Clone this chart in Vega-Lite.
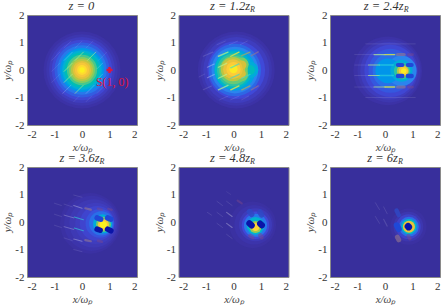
{"$schema":"https://vega.github.io/schema/vega-lite/v6.json","padding":{"left":1,"top":-2,"right":0,"bottom":0},"background":"white","columns":3,"bounds":"flush",
"datasets":{"d":[
{"p":"z = 0","k":"b","x":0,"y":0,"r":1.4,"v":0.02},{"p":"z = 0","k":"b","x":0,"y":0,"r":1.3,"v":0.04},{"p":"z = 0","k":"b","x":0,"y":0,"r":1.2,"v":0.07},{"p":"z = 0","k":"b","x":0,"y":0,"r":1.1,"v":0.11},{"p":"z = 0","k":"b","x":0,"y":0,"r":1.0,"v":0.16},{"p":"z = 0","k":"b","x":0,"y":0,"r":0.9,"v":0.22},{"p":"z = 0","k":"b","x":0,"y":0,"r":0.8,"v":0.3},{"p":"z = 0","k":"b","x":0,"y":0,"r":0.72,"v":0.38},{"p":"z = 0","k":"b","x":0,"y":0,"r":0.64,"v":0.46},{"p":"z = 0","k":"b","x":0,"y":0,"r":0.55,"v":0.54},{"p":"z = 0","k":"b","x":0,"y":0,"r":0.47,"v":0.62},{"p":"z = 0","k":"b","x":0,"y":0,"r":0.4,"v":0.7},{"p":"z = 0","k":"b","x":0,"y":0,"r":0.33,"v":0.78},{"p":"z = 0","k":"b","x":0,"y":0,"r":0.26,"v":0.85},{"p":"z = 0","k":"b","x":0,"y":0,"r":0.18,"v":0.92},{"p":"z = 0","k":"b","x":0,"y":0,"r":0.1,"v":0.98},
{"p":"z = 1.2z","k":"b","x":0.1,"y":0,"r":1.4,"v":0.02},{"p":"z = 1.2z","k":"b","x":0.1,"y":0,"r":1.3,"v":0.04},{"p":"z = 1.2z","k":"b","x":0.1,"y":0,"r":1.2,"v":0.07},{"p":"z = 1.2z","k":"b","x":0.1,"y":0,"r":1.05,"v":0.12},{"p":"z = 1.2z","k":"b","x":0.05,"y":0,"r":0.95,"v":0.18},{"p":"z = 1.2z","k":"b","x":0.05,"y":0,"r":0.85,"v":0.25},{"p":"z = 1.2z","k":"b","x":0.05,"y":0,"r":0.75,"v":0.33},{"p":"z = 1.2z","k":"b","x":0,"y":0,"r":0.68,"v":0.42},{"p":"z = 1.2z","k":"b","x":0.6,"y":0,"r":0.3,"v":0.36},{"p":"z = 1.2z","k":"b","x":0,"y":0,"r":0.6,"v":0.5},{"p":"z = 1.2z","k":"b","x":0.6,"y":0,"r":0.18,"v":0.45},{"p":"z = 1.2z","k":"b","x":0,"y":0,"r":0.52,"v":0.58},{"p":"z = 1.2z","k":"b","x":0.3,"y":0.2,"r":0.25,"v":0.6},{"p":"z = 1.2z","k":"b","x":0.28,"y":-0.17,"r":0.25,"v":0.6},{"p":"z = 1.2z","k":"b","x":-0.02,"y":0.03,"r":0.44,"v":0.7},{"p":"z = 1.2z","k":"b","x":0.3,"y":0.18,"r":0.17,"v":0.74},{"p":"z = 1.2z","k":"b","x":0.28,"y":-0.14,"r":0.17,"v":0.74},{"p":"z = 1.2z","k":"b","x":-0.02,"y":0.03,"r":0.36,"v":0.8},{"p":"z = 1.2z","k":"b","x":0,"y":0.03,"r":0.26,"v":0.88},{"p":"z = 1.2z","k":"b","x":0,"y":0.03,"r":0.15,"v":0.96},
{"p":"z = 2.4z","k":"b","x":0.1,"y":-0.03,"r":1.25,"v":0.02},{"p":"z = 2.4z","k":"b","x":0.15,"y":-0.03,"r":1.15,"v":0.04},{"p":"z = 2.4z","k":"b","x":0.15,"y":-0.03,"r":1.05,"v":0.07},{"p":"z = 2.4z","k":"b","x":0.2,"y":-0.03,"r":0.95,"v":0.11},{"p":"z = 2.4z","k":"b","x":0.2,"y":-0.03,"r":0.8,"v":0.15},{"p":"z = 2.4z","k":"b","x":0.2,"y":-0.03,"r":0.65,"v":0.2},{"p":"z = 2.4z","k":"b","x":0.6,"y":-0.03,"r":0.55,"v":0.25},{"p":"z = 2.4z","k":"b","x":0.1,"y":-0.03,"r":0.45,"v":0.29},{"p":"z = 2.4z","k":"b","x":0.6,"y":-0.03,"r":0.4,"v":0.36},{"p":"z = 2.4z","k":"b","x":0.62,"y":-0.04,"r":0.3,"v":0.5},{"p":"z = 2.4z","k":"b","x":0.65,"y":-0.04,"r":0.22,"v":0.68},{"p":"z = 2.4z","k":"b","x":0.67,"y":-0.04,"r":0.17,"v":0.85},{"p":"z = 2.4z","k":"b","x":0.68,"y":-0.04,"r":0.1,"v":0.97},
{"p":"z = 3.6z","k":"b","x":0.3,"y":-0.05,"r":1.1,"v":0.015},{"p":"z = 3.6z","k":"b","x":0.35,"y":-0.05,"r":1.0,"v":0.03},{"p":"z = 3.6z","k":"b","x":0.42,"y":-0.05,"r":0.88,"v":0.05},{"p":"z = 3.6z","k":"b","x":0.5,"y":-0.05,"r":0.75,"v":0.07},{"p":"z = 3.6z","k":"b","x":0.55,"y":-0.05,"r":0.63,"v":0.1},{"p":"z = 3.6z","k":"b","x":0.65,"y":-0.05,"r":0.52,"v":0.14},{"p":"z = 3.6z","k":"b","x":0.7,"y":-0.05,"r":0.44,"v":0.2},{"p":"z = 3.6z","k":"b","x":0.75,"y":-0.07,"r":0.35,"v":0.36},{"p":"z = 3.6z","k":"b","x":0.78,"y":-0.08,"r":0.27,"v":0.6},{"p":"z = 3.6z","k":"b","x":0.78,"y":-0.1,"r":0.2,"v":0.85},{"p":"z = 3.6z","k":"b","x":0.78,"y":-0.1,"r":0.13,"v":0.98},
{"p":"z = 4.8z","k":"b","x":0.7,"y":-0.1,"r":0.85,"v":0.012},{"p":"z = 4.8z","k":"b","x":0.75,"y":-0.1,"r":0.72,"v":0.03},{"p":"z = 4.8z","k":"b","x":0.8,"y":-0.1,"r":0.6,"v":0.06},{"p":"z = 4.8z","k":"b","x":0.8,"y":-0.12,"r":0.5,"v":0.12},{"p":"z = 4.8z","k":"b","x":0.8,"y":-0.12,"r":0.42,"v":0.22},{"p":"z = 4.8z","k":"b","x":0.8,"y":-0.14,"r":0.32,"v":0.4},{"p":"z = 4.8z","k":"b","x":0.8,"y":-0.18,"r":0.22,"v":0.65},{"p":"z = 4.8z","k":"b","x":0.8,"y":-0.18,"r":0.15,"v":0.9},
{"p":"z = 6z","k":"b","x":0.85,"y":-0.17,"r":0.66,"v":0.012},{"p":"z = 6z","k":"b","x":0.85,"y":-0.17,"r":0.54,"v":0.04},{"p":"z = 6z","k":"b","x":0.85,"y":-0.17,"r":0.45,"v":0.09},{"p":"z = 6z","k":"b","x":0.87,"y":-0.17,"r":0.36,"v":0.2},{"p":"z = 6z","k":"b","x":0.87,"y":-0.17,"r":0.28,"v":0.42},{"p":"z = 6z","k":"b","x":0.87,"y":-0.17,"r":0.22,"v":0.8},
{"p":"z = 0","k":"f","x":-1.1,"y":0.35,"x2":-0.8,"y2":0.65,"w":0.025,"t":"f"},{"p":"z = 0","k":"f","x":-0.65,"y":0.35,"x2":-0.35,"y2":0.65,"w":0.025,"t":"w"},{"p":"z = 0","k":"f","x":-0.25,"y":0.35,"x2":0.05,"y2":0.65,"w":0.03,"t":"l"},{"p":"z = 0","k":"f","x":0.2,"y":0.35,"x2":0.5,"y2":0.65,"w":0.03,"t":"l"},{"p":"z = 0","k":"f","x":0.6,"y":0.35,"x2":0.9,"y2":0.65,"w":0.025,"t":"f"},
{"p":"z = 0","k":"f","x":-1.1,"y":-0.05,"x2":-0.8,"y2":0.25,"w":0.025,"t":"f"},{"p":"z = 0","k":"f","x":-0.65,"y":-0.05,"x2":-0.35,"y2":0.25,"w":0.03,"t":"l"},{"p":"z = 0","k":"f","x":0.55,"y":0.05,"x2":0.75,"y2":0.25,"w":0.025,"t":"w"},
{"p":"z = 0","k":"f","x":-1.1,"y":-0.45,"x2":-0.8,"y2":-0.15,"w":0.025,"t":"f"},{"p":"z = 0","k":"f","x":-0.65,"y":-0.45,"x2":-0.35,"y2":-0.15,"w":0.03,"t":"l"},{"p":"z = 0","k":"f","x":0.55,"y":-0.35,"x2":0.75,"y2":-0.15,"w":0.025,"t":"w"},
{"p":"z = 0","k":"f","x":-0.7,"y":-0.85,"x2":-0.4,"y2":-0.55,"w":0.025,"t":"w"},{"p":"z = 0","k":"f","x":-0.25,"y":-0.85,"x2":0.05,"y2":-0.55,"w":0.03,"t":"l"},{"p":"z = 0","k":"f","x":0.15,"y":-0.85,"x2":0.45,"y2":-0.55,"w":0.025,"t":"w"},{"p":"z = 0","k":"f","x":0.55,"y":-0.85,"x2":0.85,"y2":-0.55,"w":0.025,"t":"f"},
{"p":"z = 0","k":"f","x":-0.3,"y":-1.15,"x2":-0.1,"y2":-0.95,"w":0.025,"t":"f"},{"p":"z = 0","k":"f","x":0.15,"y":-1.15,"x2":0.35,"y2":-0.95,"w":0.025,"t":"f"},{"p":"z = 0","k":"f","x":-0.65,"y":0.8,"x2":-0.4,"y2":1.05,"w":0.025,"t":"f"},{"p":"z = 0","k":"f","x":-0.25,"y":0.8,"x2":0,"y2":1.05,"w":0.025,"t":"f"},{"p":"z = 0","k":"f","x":0.15,"y":0.8,"x2":0.4,"y2":1.05,"w":0.025,"t":"f"},
{"p":"z = 1.2z","k":"f","x":-0.55,"y":0.5,"x2":-0.2,"y2":0.65,"w":0.05,"t":"l"},{"p":"z = 1.2z","k":"f","x":-0.1,"y":0.5,"x2":0.2,"y2":0.65,"w":0.05,"t":"y"},{"p":"z = 1.2z","k":"f","x":0.3,"y":0.52,"x2":0.6,"y2":0.65,"w":0.05,"t":"g"},{"p":"z = 1.2z","k":"f","x":-1.1,"y":0.5,"x2":-0.75,"y2":0.65,"w":0.04,"t":"f"},
{"p":"z = 1.2z","k":"f","x":-0.95,"y":0.1,"x2":-0.7,"y2":0.22,"w":0.04,"t":"w"},{"p":"z = 1.2z","k":"f","x":-0.1,"y":0.08,"x2":0.2,"y2":0.22,"w":0.05,"t":"c"},{"p":"z = 1.2z","k":"f","x":-0.55,"y":0.1,"x2":-0.25,"y2":0.24,"w":0.05,"t":"l"},
{"p":"z = 1.2z","k":"f","x":-0.95,"y":-0.28,"x2":-0.7,"y2":-0.16,"w":0.04,"t":"w"},{"p":"z = 1.2z","k":"f","x":-0.55,"y":-0.3,"x2":-0.25,"y2":-0.16,"w":0.05,"t":"l"},{"p":"z = 1.2z","k":"f","x":-0.1,"y":-0.3,"x2":0.2,"y2":-0.16,"w":0.05,"t":"c"},{"p":"z = 1.2z","k":"f","x":0.3,"y":-0.3,"x2":0.6,"y2":-0.16,"w":0.05,"t":"c"},
{"p":"z = 1.2z","k":"f","x":-1.25,"y":-0.25,"x2":-1.05,"y2":-0.15,"w":0.03,"t":"f"},
{"p":"z = 1.2z","k":"f","x":-1.1,"y":-0.72,"x2":-0.8,"y2":-0.58,"w":0.04,"t":"f"},{"p":"z = 1.2z","k":"f","x":-0.55,"y":-0.72,"x2":-0.2,"y2":-0.56,"w":0.05,"t":"l"},{"p":"z = 1.2z","k":"f","x":-0.1,"y":-0.72,"x2":0.2,"y2":-0.58,"w":0.05,"t":"y"},{"p":"z = 1.2z","k":"f","x":0.3,"y":-0.72,"x2":0.6,"y2":-0.58,"w":0.05,"t":"g"},{"p":"z = 1.2z","k":"f","x":0.65,"y":-0.72,"x2":0.9,"y2":-0.58,"w":0.05,"t":"m"},{"p":"z = 1.2z","k":"f","x":0.65,"y":0.52,"x2":0.9,"y2":0.66,"w":0.05,"t":"m"},
{"p":"z = 1.2z","k":"f","x":-0.6,"y":0.92,"x2":-0.3,"y2":1.05,"w":0.03,"t":"f"},{"p":"z = 1.2z","k":"f","x":-0.15,"y":0.92,"x2":0.15,"y2":1.05,"w":0.03,"t":"f"},{"p":"z = 1.2z","k":"f","x":0.25,"y":0.92,"x2":0.5,"y2":1.05,"w":0.03,"t":"f"},{"p":"z = 1.2z","k":"f","x":-0.5,"y":-1.08,"x2":-0.2,"y2":-0.95,"w":0.03,"t":"f"},{"p":"z = 1.2z","k":"f","x":-0.1,"y":-1.08,"x2":0.2,"y2":-0.95,"w":0.03,"t":"f"},{"p":"z = 1.2z","k":"f","x":0.3,"y":-1.08,"x2":0.55,"y2":-0.95,"w":0.03,"t":"f"},
{"p":"z = 2.4z","k":"f","x":-1.1,"y":0.56,"x2":-0.4,"y2":0.56,"w":0.03,"t":"f"},{"p":"z = 2.4z","k":"f","x":-0.4,"y":0.56,"x2":0,"y2":0.56,"w":0.04,"t":"l"},{"p":"z = 2.4z","k":"f","x":0,"y":0.56,"x2":0.35,"y2":0.56,"w":0.05,"t":"y"},{"p":"z = 2.4z","k":"f","x":0.45,"y":0.56,"x2":0.7,"y2":0.56,"w":0.11,"t":"m"},{"p":"z = 2.4z","k":"f","x":0.85,"y":0.56,"x2":1,"y2":0.56,"w":0.1,"t":"n"},
{"p":"z = 2.4z","k":"f","x":-1.1,"y":0.18,"x2":-0.6,"y2":0.18,"w":0.03,"t":"f"},{"p":"z = 2.4z","k":"f","x":-0.6,"y":0.18,"x2":-0.2,"y2":0.18,"w":0.04,"t":"l"},{"p":"z = 2.4z","k":"f","x":-0.2,"y":0.18,"x2":0.3,"y2":0.18,"w":0.05,"t":"c"},
{"p":"z = 2.4z","k":"f","x":-1.1,"y":-0.2,"x2":-0.6,"y2":-0.2,"w":0.03,"t":"f"},{"p":"z = 2.4z","k":"f","x":-0.6,"y":-0.2,"x2":-0.2,"y2":-0.2,"w":0.04,"t":"l"},{"p":"z = 2.4z","k":"f","x":-0.2,"y":-0.2,"x2":0.3,"y2":-0.2,"w":0.05,"t":"c"},
{"p":"z = 2.4z","k":"f","x":-1.1,"y":-0.62,"x2":-0.4,"y2":-0.62,"w":0.03,"t":"f"},{"p":"z = 2.4z","k":"f","x":-0.4,"y":-0.62,"x2":0,"y2":-0.62,"w":0.04,"t":"l"},{"p":"z = 2.4z","k":"f","x":0,"y":-0.62,"x2":0.35,"y2":-0.62,"w":0.05,"t":"y"},{"p":"z = 2.4z","k":"f","x":0.45,"y":-0.62,"x2":0.7,"y2":-0.62,"w":0.11,"t":"m"},{"p":"z = 2.4z","k":"f","x":0.85,"y":-0.62,"x2":1,"y2":-0.62,"w":0.1,"t":"n"},
{"p":"z = 2.4z","k":"f","x":-0.7,"y":0.95,"x2":1.1,"y2":0.95,"w":0.03,"t":"f"},{"p":"z = 2.4z","k":"f","x":-0.7,"y":-1,"x2":1.1,"y2":-1,"w":0.03,"t":"f"},
{"p":"z = 2.4z","k":"f","x":0.47,"y":0.18,"x2":0.63,"y2":0.18,"w":0.15,"t":"b"},{"p":"z = 2.4z","k":"f","x":0.83,"y":0.18,"x2":0.97,"y2":0.18,"w":0.15,"t":"b"},{"p":"z = 2.4z","k":"f","x":0.47,"y":-0.22,"x2":0.63,"y2":-0.22,"w":0.16,"t":"b"},{"p":"z = 2.4z","k":"f","x":0.83,"y":-0.22,"x2":0.97,"y2":-0.22,"w":0.16,"t":"b"},
{"p":"z = 3.6z","k":"f","x":-1,"y":0.68,"x2":-0.75,"y2":0.6,"w":0.03,"t":"f"},{"p":"z = 3.6z","k":"f","x":-0.65,"y":0.65,"x2":-0.35,"y2":0.55,"w":0.03,"t":"f"},{"p":"z = 3.6z","k":"f","x":-0.3,"y":0.6,"x2":0,"y2":0.5,"w":0.04,"t":"w"},{"p":"z = 3.6z","k":"f","x":0.12,"y":0.5,"x2":0.32,"y2":0.45,"w":0.08,"t":"m"},{"p":"z = 3.6z","k":"f","x":0.58,"y":0.48,"x2":0.72,"y2":0.45,"w":0.09,"t":"n"},{"p":"z = 3.6z","k":"f","x":0.95,"y":0.48,"x2":1.08,"y2":0.44,"w":0.08,"t":"n"},
{"p":"z = 3.6z","k":"f","x":-1,"y":0.28,"x2":-0.75,"y2":0.2,"w":0.03,"t":"f"},{"p":"z = 3.6z","k":"f","x":-0.65,"y":0.25,"x2":-0.3,"y2":0.15,"w":0.03,"t":"w"},{"p":"z = 3.6z","k":"f","x":-0.28,"y":0.18,"x2":0.05,"y2":0.08,"w":0.04,"t":"c"},
{"p":"z = 3.6z","k":"f","x":-1,"y":-0.12,"x2":-0.75,"y2":-0.2,"w":0.03,"t":"f"},{"p":"z = 3.6z","k":"f","x":-0.65,"y":-0.17,"x2":-0.3,"y2":-0.27,"w":0.03,"t":"w"},{"p":"z = 3.6z","k":"f","x":-0.28,"y":-0.22,"x2":0.05,"y2":-0.32,"w":0.04,"t":"c"},
{"p":"z = 3.6z","k":"f","x":-0.65,"y":-0.58,"x2":-0.35,"y2":-0.68,"w":0.03,"t":"f"},{"p":"z = 3.6z","k":"f","x":-0.3,"y":-0.62,"x2":0,"y2":-0.7,"w":0.04,"t":"w"},{"p":"z = 3.6z","k":"f","x":0.12,"y":-0.66,"x2":0.32,"y2":-0.7,"w":0.08,"t":"m"},{"p":"z = 3.6z","k":"f","x":0.58,"y":-0.68,"x2":0.72,"y2":-0.72,"w":0.09,"t":"n"},{"p":"z = 3.6z","k":"f","x":-0.3,"y":-1,"x2":0,"y2":-1.08,"w":0.03,"t":"f"},{"p":"z = 3.6z","k":"f","x":-0.3,"y":0.98,"x2":0,"y2":0.9,"w":0.03,"t":"f"},
{"p":"z = 3.6z","k":"f","x":0.55,"y":0.15,"x2":0.68,"y2":0.1,"w":0.2,"t":"b"},{"p":"z = 3.6z","k":"f","x":0.93,"y":0.15,"x2":1.05,"y2":0.1,"w":0.2,"t":"b"},{"p":"z = 3.6z","k":"f","x":0.55,"y":-0.26,"x2":0.66,"y2":-0.3,"w":0.2,"t":"d"},{"p":"z = 3.6z","k":"f","x":0.93,"y":-0.26,"x2":1.05,"y2":-0.32,"w":0.2,"t":"d"},
{"p":"z = 4.8z","k":"f","x":-0.95,"y":0.35,"x2":-0.8,"y2":0.25,"w":0.03,"t":"f"},{"p":"z = 4.8z","k":"f","x":-0.6,"y":0.35,"x2":-0.4,"y2":0.2,"w":0.03,"t":"f"},{"p":"z = 4.8z","k":"f","x":-0.25,"y":0.35,"x2":-0.05,"y2":0.2,"w":0.04,"t":"w"},{"p":"z = 4.8z","k":"f","x":-0.6,"y":-0.05,"x2":-0.4,"y2":-0.2,"w":0.03,"t":"f"},{"p":"z = 4.8z","k":"f","x":-0.25,"y":-0.05,"x2":-0.05,"y2":-0.2,"w":0.04,"t":"w"},{"p":"z = 4.8z","k":"f","x":-0.25,"y":0.75,"x2":-0.05,"y2":0.6,"w":0.03,"t":"f"},{"p":"z = 4.8z","k":"f","x":-0.6,"y":0.75,"x2":-0.4,"y2":0.6,"w":0.03,"t":"f"},{"p":"z = 4.8z","k":"f","x":-0.25,"y":-0.45,"x2":-0.05,"y2":-0.6,"w":0.03,"t":"f"},{"p":"z = 4.8z","k":"f","x":-0.25,"y":1.1,"x2":-0.1,"y2":1,"w":0.02,"t":"f"},
{"p":"z = 4.8z","k":"f","x":0.15,"y":0.78,"x2":0.3,"y2":0.68,"w":0.08,"t":"n"},{"p":"z = 4.8z","k":"f","x":0.58,"y":0.38,"x2":0.66,"y2":0.28,"w":0.2,"t":"e"},{"p":"z = 4.8z","k":"f","x":0.96,"y":0.36,"x2":1.02,"y2":0.26,"w":0.2,"t":"e"},{"p":"z = 4.8z","k":"f","x":0.6,"y":-0.5,"x2":0.7,"y2":-0.56,"w":0.14,"t":"n"},{"p":"z = 4.8z","k":"f","x":0.97,"y":-0.48,"x2":1.02,"y2":-0.55,"w":0.16,"t":"n"},
{"p":"z = 4.8z","k":"f","x":0.58,"y":-0.05,"x2":0.66,"y2":-0.12,"w":0.23,"t":"d"},{"p":"z = 4.8z","k":"f","x":0.97,"y":-0.06,"x2":1.03,"y2":-0.12,"w":0.23,"t":"d"},
{"p":"z = 6z","k":"f","x":-0.35,"y":0.7,"x2":-0.2,"y2":0.45,"w":0.03,"t":"f"},{"p":"z = 6z","k":"f","x":-0.05,"y":0.55,"x2":0.08,"y2":0.3,"w":0.03,"t":"f"},{"p":"z = 6z","k":"f","x":-0.35,"y":0.2,"x2":-0.2,"y2":-0.05,"w":0.03,"t":"f"},{"p":"z = 6z","k":"f","x":-0.05,"y":0.1,"x2":0.08,"y2":-0.15,"w":0.04,"t":"f"},{"p":"z = 6z","k":"f","x":0.42,"y":0.42,"x2":0.5,"y2":0.25,"w":0.16,"t":"e"},{"p":"z = 6z","k":"f","x":0.45,"y":-0.55,"x2":0.5,"y2":-0.65,"w":0.18,"t":"m"},{"p":"z = 6z","k":"f","x":0.85,"y":-0.5,"x2":0.9,"y2":-0.6,"w":0.14,"t":"n"},{"p":"z = 6z","k":"f","x":0.43,"y":-0.12,"x2":0.5,"y2":-0.26,"w":0.22,"t":"b"},{"p":"z = 6z","k":"f","x":0.84,"y":-0.16,"x2":0.86,"y2":-0.18,"w":0.25,"t":"d"},
{"p":"z = 0","k":"s","x":1,"y":0},{"p":"z = 0","k":"l","x":1.1,"y":-0.42,"s":"S(1, 0)"},
{"p":"z = 0","k":"h","x":0.45,"y":2,"s":"z = 0"},{"p":"z = 1.2z","k":"h","x":0.6,"y":2,"s":"z = 1.2z"},{"p":"z = 2.4z","k":"h","x":0.68,"y":2,"s":"z = 2.4z"},{"p":"z = 3.6z","k":"h","x":0.64,"y":2,"s":"z = 3.6z"},{"p":"z = 4.8z","k":"h","x":0.6,"y":2,"s":"z = 4.8z"},{"p":"z = 6z","k":"h","x":0.47,"y":2,"s":"z = 6z"},
{"p":"z = 1.2z","k":"r","x":0.6,"y":2.0,"s":"R"},{"p":"z = 2.4z","k":"r","x":0.68,"y":2.0,"s":"R"},{"p":"z = 3.6z","k":"r","x":0.64,"y":2.0,"s":"R"},{"p":"z = 4.8z","k":"r","x":0.6,"y":2.0,"s":"R"},{"p":"z = 6z","k":"r","x":0.47,"y":2.0,"s":"R"}
]},
"data":{"name":"d"},
"facet":{"field":"p","type":"nominal","sort":["z = 0","z = 1.2z","z = 2.4z","z = 3.6z","z = 4.8z","z = 6z"],"header":{"title":null,"labelExpr":"''","labelFontSize":1,"labelPadding":0}},
"spacing":{"column":41.5,"row":42},
"resolve":{"axis":{"x":"independent","y":"independent"}},
"spec":{"width":110,"height":110,
"view":{"fill":"#382f9c","stroke":"#8a8a8a","strokeWidth":1},
"encoding":{
"x":{"field":"x","type":"quantitative","scale":{"domain":[-2,2],"nice":false},"axis":{"values":[-2,-1,0,1,2],"format":"d","labelExpr":"replace(datum.label,'−','-')","title":"x/ωₚ","titleFont":"Liberation Serif","titleFontStyle":"italic","titleFontWeight":"normal","titleFontSize":11,"titleColor":"#444","titlePadding":2,"labelFont":"Liberation Serif","labelFontSize":11,"labelColor":"#333","labelPadding":3,"ticks":false,"grid":false,"domain":false}},
"y":{"field":"y","type":"quantitative","scale":{"domain":[-2,2],"nice":false},"axis":{"values":[-2,-1,0,1,2],"format":"d","labelExpr":"replace(datum.label,'−','-')","title":"y/ωₚ","titleFont":"Liberation Serif","titleFontStyle":"italic","titleFontWeight":"normal","titleFontSize":11,"titleColor":"#444","titlePadding":2,"labelFont":"Liberation Serif","labelFontSize":11,"labelColor":"#333","labelPadding":3,"ticks":false,"grid":false,"domain":false}}},
"layer":[
{"transform":[{"filter":"datum.k=='b'"}],"mark":{"type":"point","shape":"circle","filled":true,"opacity":1,"clip":true,"strokeWidth":0},
"encoding":{"size":{"field":"r","type":"quantitative","scale":{"type":"pow","exponent":2,"domain":[0,2],"range":[0,12100]},"legend":null},
"color":{"field":"v","type":"quantitative","scale":{"domain":[0,0.12,0.25,0.37,0.5,0.62,0.75,0.87,1],"range":["#3a2e9c","#3f49d8","#2a85ee","#14aed6","#2fc2a0","#85cc60","#dcbf3a","#fcc93a","#f9f91a"]},"legend":null}}},
{"transform":[{"filter":"datum.k=='f'"}],"mark":{"type":"rule","strokeCap":"round","clip":true},
"encoding":{"x2":{"field":"x2"},"y2":{"field":"y2"},"strokeWidth":{"field":"w","type":"quantitative","scale":{"domain":[0,1],"range":[0,27.5]},"legend":null},
"color":{"field":"t","type":"nominal","scale":{"domain":["w","f","l","y","g","c","m","n","b","d","e"],"range":["rgba(255,255,255,0.3)","rgba(255,255,255,0.13)","rgba(190,240,140,0.7)","rgba(216,224,74,0.85)","rgba(154,168,106,0.8)","rgba(48,216,216,0.6)","rgba(150,120,140,0.6)","rgba(120,70,140,0.5)","#1f48d8","#0a14a8","rgba(47,72,196,0.85)"]},"legend":null}}},
{"transform":[{"filter":"datum.k=='s'"}],"mark":{"type":"point","shape":"cross","filled":true,"color":"#e0143c","size":36,"opacity":1}},
{"transform":[{"filter":"datum.k=='l'"}],"mark":{"type":"text","font":"Liberation Serif","fontSize":12,"color":"#e0143c","align":"center","baseline":"middle"},"encoding":{"text":{"field":"s"}}},
{"transform":[{"filter":"datum.k=='h'"}],"mark":{"type":"text","font":"Liberation Serif","fontStyle":"italic","fontSize":12.5,"color":"#333","align":"right","baseline":"bottom","dy":-2},"encoding":{"text":{"field":"s"}}},
{"transform":[{"filter":"datum.k=='r'"}],"mark":{"type":"text","font":"Liberation Serif","fontStyle":"italic","fontSize":8,"color":"#333","align":"left","baseline":"bottom","dy":-1},"encoding":{"text":{"field":"s"}}}
]},
"config":{"legend":{"disable":true}}}
